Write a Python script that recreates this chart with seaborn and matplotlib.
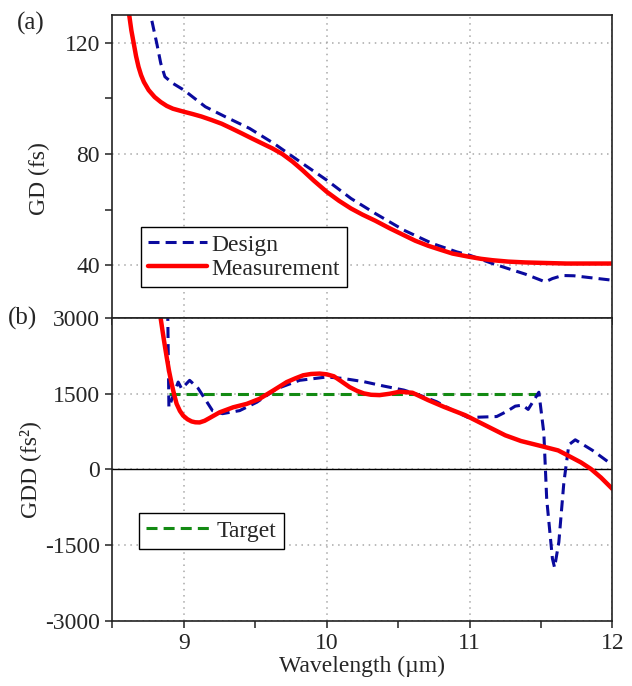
import numpy as np
import pandas as pd
import matplotlib
matplotlib.use("Agg")
import matplotlib.pyplot as plt
from matplotlib.ticker import MultipleLocator
from matplotlib.lines import Line2D
import seaborn as sns

# ---------------- data ----------------
gd_wl_meas = [8.60, 8.617, 8.632, 8.648, 8.665, 8.682, 8.700, 8.720, 8.753, 8.795, 8.838, 8.88,
              8.923, 9.0, 9.06, 9.122, 9.19, 9.264, 9.33, 9.406, 9.48, 9.548, 9.62, 9.689,
              9.76, 9.83, 9.91, 10.0, 10.085, 10.17, 10.25, 10.34, 10.44, 10.54, 10.62,
              10.71, 10.8, 10.88, 10.95, 11.0, 11.08, 11.16, 11.27, 11.39, 11.53, 11.68, 12.0]
gd_meas = [134, 130, 124.5, 120.0, 115.2, 111.4, 108.4, 105.9, 103.0, 100.5, 98.7, 97.3,
           96.3, 95.2, 94.4, 93.5, 92.3, 90.9, 89.3, 87.4, 85.5, 83.8, 82.0, 80.0,
           77.3, 74.2, 70.4, 66.4, 63.2, 60.4, 58.2, 56.0, 53.3, 50.8, 48.8,
           47.0, 45.5, 44.2, 43.5, 43.0, 42.3, 41.8, 41.3, 41.0, 40.8, 40.6, 40.6]

gd_wl_design = [8.76, 8.767, 8.79, 8.81, 8.838, 8.867, 8.92, 9.0, 9.15, 9.29, 9.46, 9.63,
                9.83, 10.0, 10.17, 10.34, 10.54, 10.74, 10.91, 11.0, 11.16, 11.39, 11.53,
                11.58, 11.65, 11.73, 12.0]
gd_design = [134, 130, 124.5, 119.8, 112.6, 107.8, 105.5, 103, 97, 93.4, 89.2, 83.8,
             76.6, 70.6, 64.0, 58.6, 52.6, 47.8, 44.8, 43.6, 40.6, 36.8, 34.0,
             35.2, 36.3, 36.2, 34.6]

gdd_wl_meas = [8.82, 8.837, 8.858, 8.879, 8.896, 8.914, 8.932, 8.949, 8.972, 8.995, 9.025,
               9.054, 9.08, 9.11, 9.145, 9.18, 9.25, 9.345, 9.44, 9.53, 9.626, 9.72, 9.78,
               9.835, 9.89, 9.95, 10.0, 10.05, 10.1, 10.16, 10.21, 10.26, 10.31, 10.37,
               10.44, 10.51, 10.6, 10.71, 10.82, 10.97, 11.11, 11.25, 11.36, 11.5, 11.62,
               11.68, 11.78, 11.85, 11.92, 12.0]
gdd_meas = [3400, 3000, 2600, 2232, 1950, 1700, 1480, 1300, 1160, 1066, 995,
            952, 935, 932, 965, 1020, 1132, 1232, 1300, 1400, 1566, 1732, 1805,
            1866, 1892, 1900, 1885, 1846, 1750, 1632, 1560, 1507, 1480, 1473,
            1500, 1540, 1520, 1374, 1241, 1075, 876, 677, 564, 465, 378,
            290, 140, 10, -160, -385]

gdd_wl_design = [8.885, 8.895, 8.96, 8.984, 9.04, 9.10, 9.20, 9.27, 9.39, 9.51, 9.65, 9.81,
                 10.0, 10.11, 10.26, 10.4, 10.54, 10.65, 10.77, 10.88, 10.99, 11.10, 11.19,
                 11.26, 11.32, 11.37, 11.41, 11.485, 11.52, 11.54, 11.58, 11.595, 11.625,
                 11.66, 11.695, 11.74, 11.86, 12.0]
gdd_design = [3500, 1232, 1732, 1600, 1766, 1606, 1166, 1106, 1166, 1332, 1600, 1766,
              1832, 1805, 1739, 1652, 1573, 1473, 1341, 1175, 1029, 1040, 1049,
              1150, 1255, 1275, 1190, 1530, 720, -588, -1765, -1941, -1437,
              -261, 490, 588, 380, 90]

target_wl = [8.895, 11.5]
target_gdd = [1500, 1500]

# ---------------- style ----------------
sns.set_style("ticks")
plt.rcParams['font.family'] = ['Liberation Serif', 'DejaVu Serif']
plt.rcParams['axes.unicode_minus'] = False

RED = "#ff0000"
BLUE = "#0a0a9e"
GREEN = "#138a13"
FS = 17
DASH = (0, (3.6, 2.0))
LW_D = 2.2
LW_M = 3.2

fig = plt.figure(figsize=(6.32, 6.86), dpi=100)
L, W = 0.178, 0.791
ax1 = fig.add_axes([L, 0.5364, W, 0.4417])
ax2 = fig.add_axes([L, 0.0948, W, 0.4416])

grid_kw = dict(color="#a8a8a8", linestyle=(0, (1, 3)), linewidth=1.1)

# top panel
sns.lineplot(x=gd_wl_design, y=gd_design, ax=ax1, color=BLUE, linewidth=LW_D,
             linestyle=DASH, sort=False, estimator=None)
sns.lineplot(x=gd_wl_meas, y=gd_meas, ax=ax1, color=RED, linewidth=LW_M,
             sort=False, estimator=None)
ax1.set_xlim(8.5, 12)
ax1.set_ylim(21, 130)
ax1.yaxis.set_major_locator(MultipleLocator(40))
ax1.yaxis.set_minor_locator(MultipleLocator(20))
ax1.xaxis.set_major_locator(MultipleLocator(1))
ax1.xaxis.set_minor_locator(MultipleLocator(0.5))
ax1.tick_params(axis='x', labelbottom=False)
ax1.set_ylabel("GD (fs)", fontsize=FS)
ax1.yaxis.set_label_coords(-0.125, 0.46)
ax1.set_xlabel("")
ax1.grid(True, which='major', **grid_kw)

h1 = [Line2D([], [], color=BLUE, lw=LW_D, linestyle=DASH),
      Line2D([], [], color=RED, lw=LW_M)]
leg1 = ax1.legend(h1, ["Design", "Measurement"], loc='upper left',
                  bbox_to_anchor=(0.057, 0.30), borderaxespad=0, fontsize=FS,
                  frameon=True, fancybox=False, handlelength=2.5, handletextpad=0.2,
                  labelspacing=0.1, borderpad=0.3)
leg1.get_frame().set_edgecolor('black')
leg1.get_frame().set_linewidth(1.0)
leg1.get_frame().set_alpha(1)

# bottom panel
ax2.axhline(0, color='black', linewidth=1.0, zorder=1)
sns.lineplot(x=target_wl, y=target_gdd, ax=ax2, color=GREEN, linewidth=LW_D,
             linestyle=DASH, sort=False, estimator=None)
sns.lineplot(x=gdd_wl_design, y=gdd_design, ax=ax2, color=BLUE, linewidth=LW_D,
             linestyle=DASH, sort=False, estimator=None)
sns.lineplot(x=gdd_wl_meas, y=gdd_meas, ax=ax2, color=RED, linewidth=LW_M,
             sort=False, estimator=None)
ax2.set_xlim(8.5, 12)
ax2.set_ylim(-3000, 3000)
ax2.yaxis.set_major_locator(MultipleLocator(1500))
ax2.xaxis.set_major_locator(MultipleLocator(1))
ax2.xaxis.set_minor_locator(MultipleLocator(0.5))
ax2.set_ylabel("GDD (fs²)", fontsize=FS)
ax2.yaxis.set_label_coords(-0.143, 0.5)
ax2.set_xlabel("Wavelength (µm)", fontsize=FS, labelpad=1)
ax2.grid(True, which='major', **grid_kw)

h2 = [Line2D([], [], color=GREEN, lw=LW_D, linestyle=DASH)]
leg2 = ax2.legend(h2, ["Target"], loc='upper left', bbox_to_anchor=(0.053, 0.356),
                  borderaxespad=0, fontsize=FS, frameon=True, fancybox=False,
                  handlelength=2.8, handletextpad=0.2, borderpad=0.3)
leg2.get_frame().set_edgecolor('black')
leg2.get_frame().set_linewidth(1.0)
leg2.get_frame().set_alpha(1)

for ax in (ax1, ax2):
    for s in ax.spines.values():
        s.set_visible(True)
        s.set_color('#222222')
        s.set_linewidth(1.2)
    ax.tick_params(axis='both', which='both', direction='out', length=5, width=1.1,
                   labelsize=FS, pad=4, color='#222222')
    ax.set_axisbelow(True)

fig.text(0.026, 0.983, "(a)", fontsize=FS + 1, va='top', ha='left')
fig.text(0.013, 0.5364, "(b)", fontsize=FS + 1, va='center', ha='left')

fig.savefig("out.png", dpi=100)
